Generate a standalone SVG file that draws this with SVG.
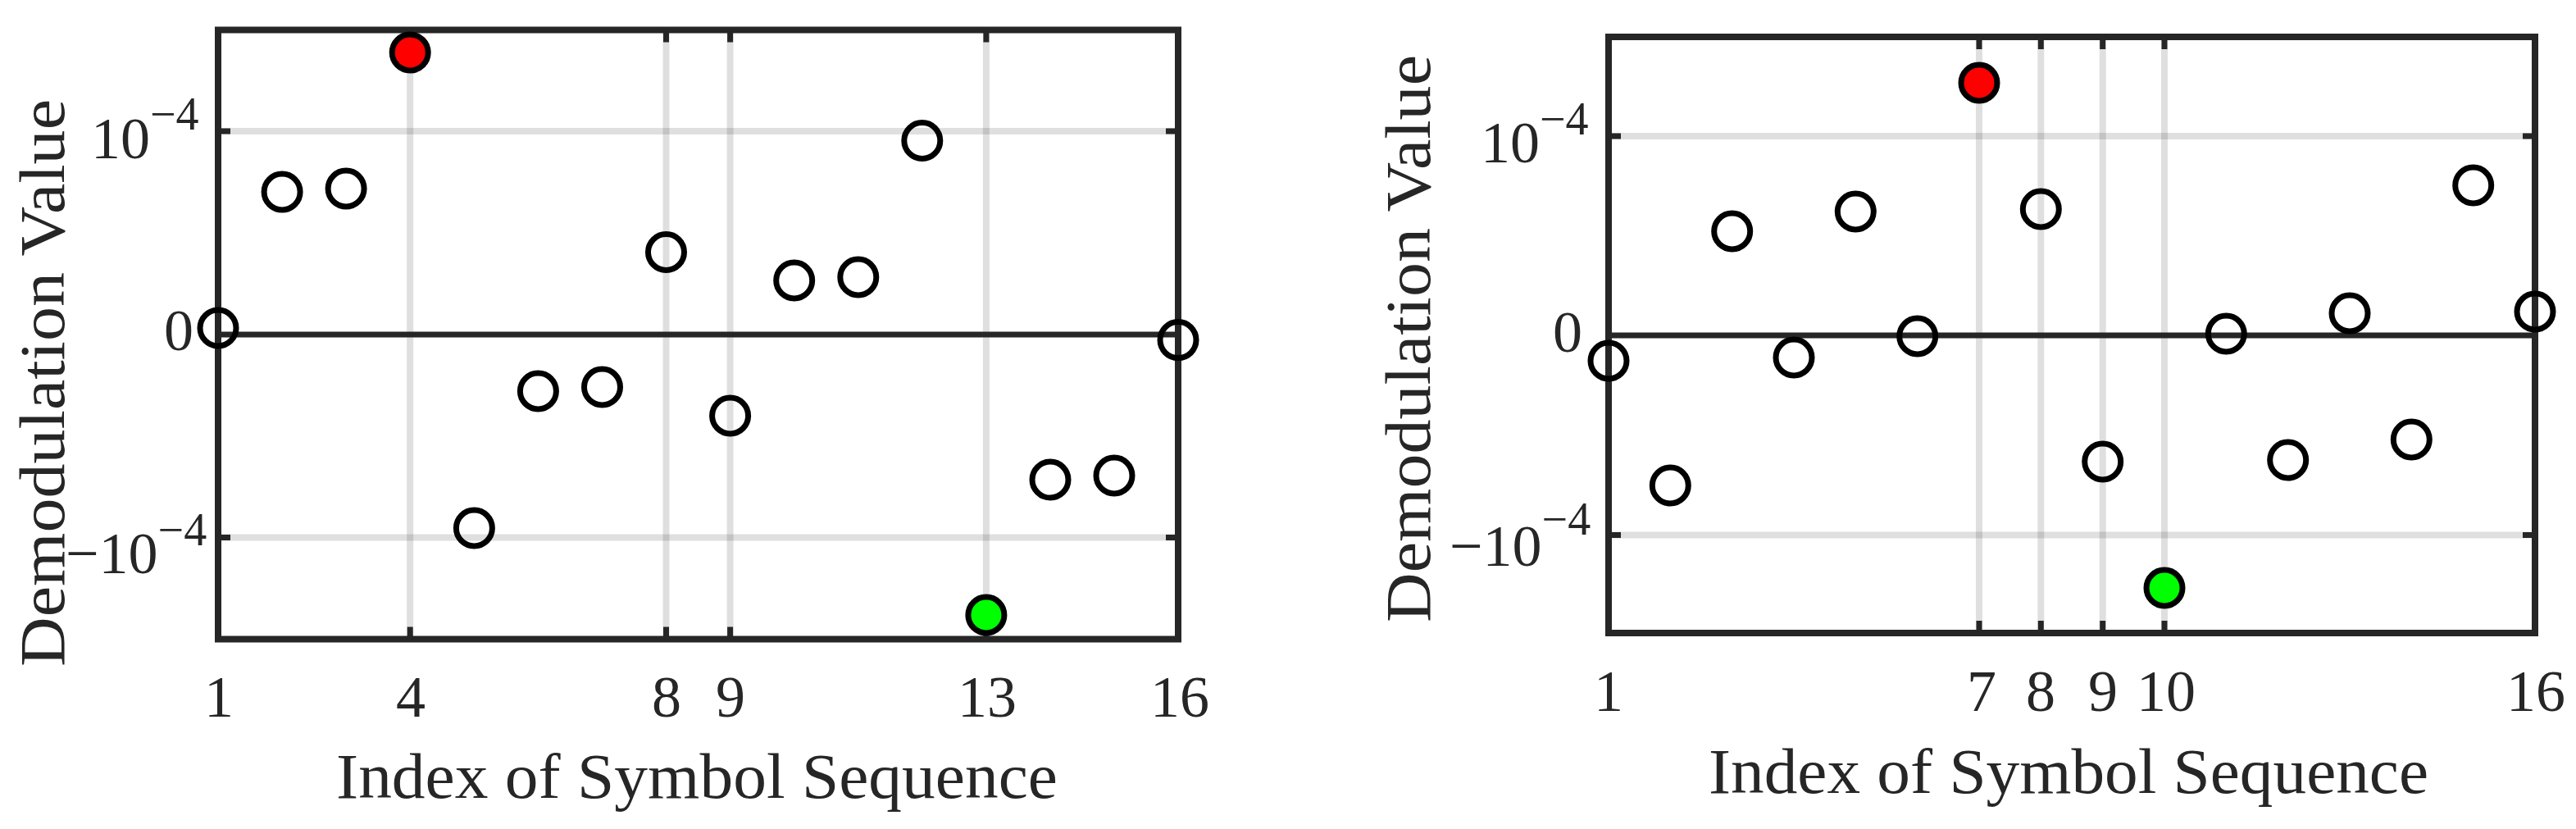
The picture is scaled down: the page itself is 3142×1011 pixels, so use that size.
<svg xmlns="http://www.w3.org/2000/svg" width="3142" height="1011" viewBox="0 0 3142 1011">
<style>
.grid{stroke:#262626;stroke-opacity:0.15;stroke-width:8;fill:none}
.axis{stroke:#262626;stroke-width:8;fill:none}
.zero{stroke:#262626;stroke-width:7}
.tick{stroke:#262626;stroke-width:7}
.mk{fill:none;stroke:#000;stroke-width:7}
.red{fill:#ff0000;stroke:#000;stroke-width:7}
.green{fill:#00ff00;stroke:#000;stroke-width:7}
text{font-family:"Liberation Serif","Times New Roman",serif;fill:#262626}
.tl{font-size:72px}
.sup{font-size:56px}
.xt{font-size:72px;text-anchor:middle}
.lab{font-size:78px}
</style>
<rect width="3142" height="1011" fill="#fff"/>

<g id="left-plot">
  <g id="left-grid">
    <line class="grid" x1="266" y1="160" x2="1437" y2="160"/>
    <line class="grid" x1="266" y1="655.5" x2="1437" y2="655.5"/>
    <line class="grid" x1="500.2" y1="36.5" x2="500.2" y2="779.5"/>
    <line class="grid" x1="812.5" y1="36.5" x2="812.5" y2="779.5"/>
    <line class="grid" x1="890.6" y1="36.5" x2="890.6" y2="779.5"/>
    <line class="grid" x1="1202.9" y1="36.5" x2="1202.9" y2="779.5"/>
  </g>
  <line id="left-zero" class="zero" x1="266" y1="408" x2="1437" y2="408"/>
  <g id="left-axes">
    <rect class="axis" x="266" y="36.5" width="1171" height="743"/>
    <path class="tick" d="M266 160h15M266 655.5h15M1437 160h-15M1437 655.5h-15M500.2 779.5v-15M812.5 779.5v-15M890.6 779.5v-15M1202.9 779.5v-15M500.2 36.5v15M812.5 36.5v15M890.6 36.5v15M1202.9 36.5v15"/>
  </g>
  <g id="left-yticklabels">
    <text class="tl" x="111" y="193">10<tspan class="sup" dy="-35">−4</tspan></text>
    <text class="tl" x="200" y="427">0</text>
    <text class="tl" x="80" y="699">−10<tspan class="sup" dy="-34">−4</tspan></text>
  </g>
  <g id="left-xticklabels">
    <text class="xt" x="267" y="874">1</text>
    <text class="xt" x="501" y="874">4</text>
    <text class="xt" x="813" y="874">8</text>
    <text class="xt" x="891" y="874">9</text>
    <text class="xt" x="1204" y="874">13</text>
    <text class="xt" x="1439" y="874">16</text>
  </g>
  <text id="left-xlabel" class="lab" x="410" y="973" textLength="880" lengthAdjust="spacingAndGlyphs">Index of Symbol Sequence</text>
  <text id="left-ylabel" class="lab" transform="translate(78 467) rotate(-90)" x="0" y="0" text-anchor="middle" textLength="692" lengthAdjust="spacingAndGlyphs">Demodulation Value</text>
  <g id="left-points">
    <circle class="mk" cx="266" cy="400" r="22"/>
    <circle class="mk" cx="344.1" cy="234" r="22"/>
    <circle class="mk" cx="422.1" cy="230" r="22"/>
    <circle class="red" cx="500.2" cy="64" r="22"/>
    <circle class="mk" cx="578.4" cy="644" r="22"/>
    <circle class="mk" cx="656.4" cy="477" r="22"/>
    <circle class="mk" cx="734.5" cy="472" r="22"/>
    <circle class="mk" cx="812.5" cy="307.5" r="22"/>
    <circle class="mk" cx="890.6" cy="507" r="22"/>
    <circle class="mk" cx="968.7" cy="342" r="22"/>
    <circle class="mk" cx="1046.8" cy="338" r="22"/>
    <circle class="mk" cx="1124.8" cy="171.5" r="22"/>
    <circle class="green" cx="1202.9" cy="750" r="22"/>
    <circle class="mk" cx="1281" cy="585" r="22"/>
    <circle class="mk" cx="1359" cy="580" r="22"/>
    <circle class="mk" cx="1437" cy="414.6" r="22"/>
  </g>
</g>

<g id="right-plot">
  <g id="right-grid">
    <line class="grid" x1="1962" y1="166" x2="3092" y2="166"/>
    <line class="grid" x1="1962" y1="652.5" x2="3092" y2="652.5"/>
    <line class="grid" x1="2414" y1="45" x2="2414" y2="772"/>
    <line class="grid" x1="2489.3" y1="45" x2="2489.3" y2="772"/>
    <line class="grid" x1="2564.7" y1="45" x2="2564.7" y2="772"/>
    <line class="grid" x1="2640" y1="45" x2="2640" y2="772"/>
  </g>
  <line id="right-zero" class="zero" x1="1962" y1="409" x2="3092" y2="409"/>
  <g id="right-axes">
    <rect class="axis" x="1962" y="45" width="1130" height="727"/>
    <path class="tick" d="M1962 166h15M1962 652.5h15M3092 166h-15M3092 652.5h-15M2414 772v-15M2489.3 772v-15M2564.7 772v-15M2640 772v-15M2414 45v15M2489.3 45v15M2564.7 45v15M2640 45v15"/>
  </g>
  <g id="right-yticklabels">
    <text class="tl" x="1806" y="198">10<tspan class="sup" dy="-34">−4</tspan></text>
    <text class="tl" x="1894" y="429">0</text>
    <text class="tl" x="1768" y="690">−10<tspan class="sup" dy="-38">−4</tspan></text>
  </g>
  <g id="right-xticklabels">
    <text class="xt" x="1962" y="867">1</text>
    <text class="xt" x="2417" y="867">7</text>
    <text class="xt" x="2489" y="867">8</text>
    <text class="xt" x="2565" y="867">9</text>
    <text class="xt" x="2642" y="867">10</text>
    <text class="xt" x="3093" y="867">16</text>
  </g>
  <text id="right-xlabel" class="lab" x="2084" y="967" textLength="878" lengthAdjust="spacingAndGlyphs">Index of Symbol Sequence</text>
  <text id="right-ylabel" class="lab" transform="translate(1744 413) rotate(-90)" x="0" y="0" text-anchor="middle" textLength="692" lengthAdjust="spacingAndGlyphs">Demodulation Value</text>
  <g id="right-points">
    <circle class="mk" cx="1962" cy="440" r="22"/>
    <circle class="mk" cx="2037.3" cy="592" r="22"/>
    <circle class="mk" cx="2112.7" cy="282" r="22"/>
    <circle class="mk" cx="2188" cy="436" r="22"/>
    <circle class="mk" cx="2263.3" cy="258" r="22"/>
    <circle class="mk" cx="2338.7" cy="410" r="22"/>
    <circle class="red" cx="2414" cy="101" r="22"/>
    <circle class="mk" cx="2489.3" cy="255" r="22"/>
    <circle class="mk" cx="2564.7" cy="563" r="22"/>
    <circle class="green" cx="2640" cy="717" r="22"/>
    <circle class="mk" cx="2715.3" cy="407" r="22"/>
    <circle class="mk" cx="2790.7" cy="561" r="22"/>
    <circle class="mk" cx="2866" cy="382" r="22"/>
    <circle class="mk" cx="2941.3" cy="536" r="22"/>
    <circle class="mk" cx="3016.7" cy="226" r="22"/>
    <circle class="mk" cx="3092" cy="380" r="22"/>
  </g>
</g>
</svg>
